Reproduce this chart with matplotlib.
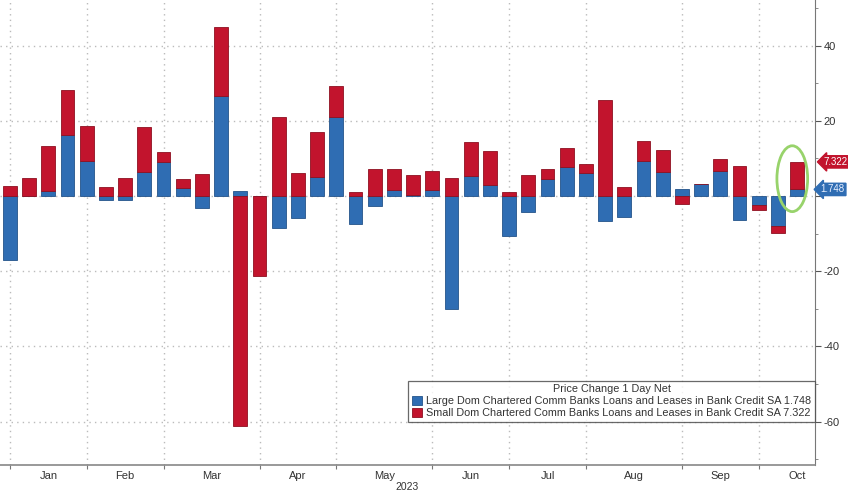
import matplotlib
matplotlib.use("Agg")
import matplotlib.pyplot as plt
import matplotlib.transforms as mtransforms
from matplotlib.patches import Ellipse
import numpy as np
import pandas as pd

plt.rcParams['font.family'] = ['Liberation Sans', 'DejaVu Sans']

# weekly H.8 observations (Wednesdays), Jan 4 - Oct 18 2023
weeks = pd.date_range("2023-01-04", "2023-10-18", freq="W-WED")

# Large domestically chartered banks, weekly change ($bn)
large = [-17.0, 0.1, 1.4, 16.1, 9.3, -1.1, -1.0, 6.5, 9.1, 2.0,
         -3.3, 26.6, 1.4, 0.0, -8.4, -5.8, 5.1, 20.9, -7.5, -2.6,
         1.5, 0.2, 1.6, -30.0, 5.3, 2.9, -10.6, -4.3, 4.4, 7.8,
         6.2, -6.6, -5.5, 9.4, 6.5, 1.8, 3.1, 6.7, -6.4, -2.4,
         -8.0, 1.748]
# Small domestically chartered banks, weekly change ($bn)
small = [2.7, 4.6, 12.0, 12.1, 9.4, 2.5, 4.7, 11.8, 2.7, 2.6,
         5.8, 18.3, -61.1, -21.3, 21.1, 6.0, 11.8, 8.4, 1.0, 7.2,
         5.7, 5.4, 5.1, 4.9, 9.1, 9.1, 1.0, 5.6, 2.7, 4.9,
         2.2, 25.5, 2.3, 5.2, 5.6, -2.1, 0.1, 3.1, 8.0, -1.2,
         -1.8, 7.322]

large_lbl = "Large Dom Chartered Comm Banks Loans and Leases in Bank Credit SA 1.748"
small_lbl = "Small Dom Chartered Comm Banks Loans and Leases in Bank Credit SA 7.322"

blue = "#2f6db3"
red = "#c2142d"

large = np.array(large)
small = np.array(small)
x = np.arange(len(weeks))

# diverging stack: positives pile up from 0, negatives pile down from 0
red_bottom = np.where(small >= 0, np.maximum(large, 0), np.minimum(large, 0))

fig = plt.figure(figsize=(8.48, 4.91), dpi=100)
ax = fig.add_axes([0.0, 0.053, 0.961, 0.947])

ax.bar(x, large, width=0.72, color=blue, edgecolor="#24538a", linewidth=0.6,
       label=large_lbl, zorder=3)
ax.bar(x, small, bottom=red_bottom, width=0.72, color=red, edgecolor="#8e1020",
       linewidth=0.6, label=small_lbl, zorder=3)

ax.set_xlim(-0.52, 41.93)
ax.set_ylim(-71.5, 52.1)

# month gridlines at first week of each month, labels mid-month
months = weeks.to_period("M")
starts = [i for i in range(len(weeks)) if i == 0 or months[i] != months[i - 1]]
ends = starts[1:] + [starts[-1] + 4]
mids = [s + (e - s) / 2 for s, e in zip(starts, ends)]
ax.set_xticks(starts)
ax.set_xticklabels([])
ax.set_xticks(mids, minor=True)
ax.set_xticklabels([weeks[s].strftime("%b") for s in starts], minor=True)
ax.tick_params(axis="x", which="major", length=3, color="#777777")
ax.tick_params(axis="x", which="minor", length=0, labelsize=8, labelcolor="#333333", pad=4)
ax.text(0.5, -0.036, "2023", transform=ax.transAxes, ha="center", va="top",
        fontsize=7.5, color="#333333")

ax.yaxis.tick_right()
yt = np.arange(-60, 41, 20)
ax.set_yticks(yt)
# the 0 label sits under the blue value tag
ax.set_yticklabels([str(v) if v != 0 else "" for v in yt])
ax.set_yticks(np.arange(-70, 51, 10), minor=True)
ax.tick_params(axis="y", which="major", length=4, color="#555555", labelsize=8,
               labelcolor="#333333", pad=2)
ax.tick_params(axis="y", which="minor", length=2, color="#777777")

ax.grid(True, which="major", color="#bbbbbb", linestyle=(0, (1, 3)), linewidth=1, zorder=0)
for s in ["top", "left"]:
    ax.spines[s].set_visible(False)
ax.spines["right"].set_color("#777777")
ax.spines["bottom"].set_color("#888888")
ax.spines["bottom"].set_linewidth(1.2)

leg = ax.legend(loc="lower right", bbox_to_anchor=(1.0, 0.0925), title="Price Change 1 Day Net",
                fontsize=7.8, title_fontsize=7.8, frameon=True, fancybox=False,
                edgecolor="#444444", handlelength=0.9, handleheight=0.9,
                handletextpad=0.4, labelspacing=0.15, borderpad=0.35,
                borderaxespad=0)
leg.get_frame().set_linewidth(0.9)
leg.set_zorder(5)
for t in leg.get_texts():
    t.set_color("#333333")
leg.get_title().set_color("#333333")

# highlight the latest week
ax.add_patch(Ellipse((40.75, 4.6), 1.6, 17.5, fill=False, edgecolor="#98d36b",
                     linewidth=2, zorder=4))

trans = mtransforms.blended_transform_factory(ax.transAxes, ax.transData)
ax.text(1.011, large[-1] + small[-1], "7.322", transform=trans, ha="left", va="center",
        fontsize=7, color="white", clip_on=False, zorder=6,
        bbox=dict(boxstyle="larrow,pad=0.12", fc=red, ec=red))
ax.text(1.007, large[-1], "1.748", transform=trans, ha="left", va="center",
        fontsize=7, color="#e8f0ff", clip_on=False, zorder=6,
        bbox=dict(boxstyle="larrow,pad=0.12", fc=blue, ec=blue))

fig.savefig("out.png", dpi=100)
